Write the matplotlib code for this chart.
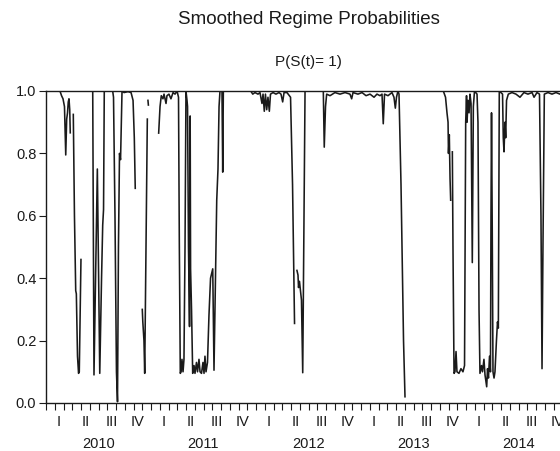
import matplotlib
matplotlib.use("Agg")
import matplotlib.pyplot as plt
import numpy as np

plt.rcParams.update({"font.family": ["Liberation Sans", "DejaVu Sans"], "figure.facecolor": "white",
                     "axes.facecolor": "white", "savefig.facecolor": "white"})
INK = "#1A1A1A"
NAN = np.nan

# smoothed probability P(S(t)=1); time in decimal years, NaN = break in the series
t = [2010.000, 2010.133, 2010.148, 2010.162, 2010.176, 2010.188, 2010.197, 2010.205, 2010.212, 2010.219,
     2010.226, 2010.231, 2010.240, 2010.260, 2010.271, 2010.283, 2010.289, 2010.300, 2010.310, 2010.317,
     2010.333, 2010.360, 2010.445, 2010.452, 2010.457, 2010.467, 2010.489, 2010.498, 2010.512, 2010.529,
     2010.540, 2010.548, 2010.555, 2010.635, 2010.643, 2010.657, 2010.671, 2010.681, 2010.690, 2010.700,
     2010.710, 2010.714, 2010.724, 2010.743, 2010.781, 2010.810, 2010.829, 2010.841, 2010.850, 2010.860,
     2010.917, 2010.922, 2010.933, 2010.940, 2010.952, 2010.965, 2010.968, 2010.971, 2010.975, 2010.980,
     2011.073, 2011.086, 2011.098, 2011.114, 2011.124, 2011.143, 2011.152, 2011.171, 2011.190, 2011.210,
     2011.229, 2011.248, 2011.262, 2011.270, 2011.279, 2011.286, 2011.295, 2011.305, 2011.314, 2011.324,
     2011.333, 2011.343, 2011.348, 2011.357, 2011.367, 2011.370, 2011.373, 2011.377, 2011.386, 2011.397,
     2011.410, 2011.419, 2011.433, 2011.443, 2011.457, 2011.467, 2011.481, 2011.495, 2011.505, 2011.514,
     2011.524, 2011.538, 2011.552, 2011.567, 2011.588, 2011.595, 2011.600, 2011.614, 2011.626, 2011.638,
     2011.648, 2011.657, 2011.676, 2011.683, 2011.689, 2011.950, 2011.969, 2011.990, 2012.019, 2012.038,
     2012.057, 2012.067, 2012.079, 2012.090, 2012.102, 2012.114, 2012.127, 2012.138, 2012.162, 2012.190,
     2012.219, 2012.238, 2012.254, 2012.267, 2012.295, 2012.329, 2012.348, 2012.367, 2012.375, 2012.390,
     2012.400, 2012.405, 2012.414, 2012.424, 2012.433, 2012.445, 2012.457, 2012.467, 2012.641, 2012.650,
     2012.662, 2012.673, 2012.705, 2012.752, 2012.800, 2012.848, 2012.895, 2012.911, 2012.924, 2012.971,
     2013.010, 2013.048, 2013.086, 2013.124, 2013.152, 2013.181, 2013.200, 2013.212, 2013.224, 2013.257,
     2013.295, 2013.314, 2013.327, 2013.338, 2013.352, 2013.362, 2013.381, 2013.405, 2013.419, 2013.430,
     2013.784, 2013.805, 2013.819, 2013.829, 2013.833, 2013.841, 2013.848, 2013.854, 2013.860, 2013.870,
     2013.876, 2013.886, 2013.895, 2013.905, 2013.914, 2013.933, 2013.952, 2013.971, 2013.986, 2013.997,
     2014.005, 2014.010, 2014.019, 2014.029, 2014.038, 2014.048, 2014.060, 2014.070, 2014.081, 2014.105,
     2014.114, 2014.124, 2014.133, 2014.148, 2014.157, 2014.171, 2014.181, 2014.197, 2014.205, 2014.214,
     2014.224, 2014.233, 2014.238, 2014.243, 2014.250, 2014.257, 2014.267, 2014.276, 2014.290, 2014.300,
     2014.308, 2014.317, 2014.348, 2014.355, 2014.362, 2014.371, 2014.378, 2014.386, 2014.403, 2014.438,
     2014.476, 2014.514, 2014.552, 2014.590, 2014.629, 2014.648, 2014.676, 2014.700, 2014.714, 2014.724,
     2014.733, 2014.746, 2014.781, 2014.819, 2014.857, 2014.895, 2015.000]
prob = [1.0, 1.0, 0.985, 0.975, 0.95, 0.795, 0.91, 0.93, 0.965, 0.975,
        0.94, 0.866, NAN, 0.925, 0.6, 0.36, 0.35, 0.15, 0.095, 0.1,
        0.46, NAN, 1.0, 0.5, 0.09, 0.3, 0.75, 0.5, 0.095, 0.4,
        0.57, 0.62, 1.0, 1.0, 0.98, 0.6, 0.1, 0.004, 0.5, 0.8,
        0.78, 0.84, 1.0, 0.995, 0.998, 0.995, 0.97, 0.85, 0.688, NAN,
        0.30, 0.26, 0.2, 0.095, 0.5, 0.91, NAN, 0.97, 0.955, NAN,
        0.865, 0.95, 0.985, 0.975, 0.99, 0.96, 0.985, 0.99, 0.975, 0.995,
        0.99, 1.0, 0.98, 0.5, 0.095, 0.1, 0.14, 0.1, 0.14, 0.5,
        1.0, 0.97, 0.95, 0.5, 0.245, 0.6, 0.92, 0.43, 0.3, 0.095,
        0.12, 0.095, 0.13, 0.1, 0.14, 0.1, 0.095, 0.13, 0.095, 0.15,
        0.1, 0.13, 0.28, 0.4, 0.43, 0.25, 0.105, 0.4, 0.65, 0.75,
        0.95, 1.0, 1.0, 0.74, 1.0, 1.0, 0.99, 0.995, 0.99, 0.995,
        0.96, 0.99, 0.935, 0.99, 0.94, 0.98, 0.935, 0.99, 0.995, 0.99,
        0.995, 0.99, 0.965, 0.995, 0.995, 0.98, 0.7, 0.255, NAN, 0.425,
        0.41, 0.37, 0.39, 0.36, 0.33, 0.097, 0.6, 1.0, 1.0, 0.82,
        0.95, 0.99, 0.985, 0.995, 0.99, 0.995, 0.99, 0.975, 0.995, 0.99,
        0.995, 0.985, 0.99, 0.98, 0.99, 0.985, 0.99, 0.895, 0.99, 0.985,
        0.995, 0.98, 0.945, 0.98, 1.0, 0.99, 0.7, 0.2, 0.02, NAN,
        1.0, 0.98, 0.93, 0.9, 0.8, 0.86, 0.72, 0.65, NAN, 0.805,
        0.5, 0.095, 0.1, 0.165, 0.1, 0.095, 0.11, 0.1, 0.12, 0.9,
        0.985, 0.9, 0.97, 0.93, 0.99, 0.96, 0.45, 0.95, 1.0, 0.99,
        0.9, 0.3, 0.095, 0.12, 0.1, 0.14, 0.09, 0.052, 0.11, 0.08,
        0.15, 0.1, 0.6, 0.93, 0.555, 0.1, 0.08, 0.1, 0.2, 0.26,
        0.24, 1.0, 0.99, 0.85, 0.805, 0.9, 0.85, 0.97, 0.99, 0.995,
        0.99, 0.98, 0.995, 0.99, 0.995, 0.98, 0.995, 0.99, 0.6, 0.11,
        0.5, 0.99, 0.995, 0.99, 0.995, 0.99, 0.995]

years = [2010, 2011, 2012, 2013, 2014]
quarters = ["I", "II", "III", "IV"]
yticks = [0.0, 0.2, 0.4, 0.6, 0.8, 1.0]

W, H = 560, 451
fig = plt.figure(figsize=(W / 100, H / 100), dpi=100)
# frame runs from x=46 px to past the right edge (the original is cropped there)
ax = fig.add_axes([46 / W, (H - 403) / H, (571 - 46) / W, (403 - 91) / H])
ax.plot(t, prob, color=INK, lw=1.15, solid_joinstyle="round")
ax.set_xlim(2010, 2015); ax.set_ylim(0, 1)

for sp in ["left", "top", "bottom"]:
    ax.spines[sp].set_color(INK); ax.spines[sp].set_linewidth(1.0)
ax.spines["right"].set_visible(False)

ax.set_yticks(yticks)
ax.set_yticklabels([f"{v:.1f}" for v in yticks], fontsize=10.5, color=INK)
ax.tick_params(axis="y", direction="out", length=5, width=0.8, color=INK, pad=2)

months = [y + m / 12 for y in years for m in range(12)] + [2015.0]
ax.set_xticks(months)
ax.set_xticklabels([])
ax.tick_params(axis="x", direction="out", length=5, width=0.8, color=INK)

xt = ax.get_xaxis_transform()
for y in years:
    for q, lab in enumerate(quarters):
        ax.text(y + q / 4 + 0.125, -0.060, lab, transform=xt, ha="center", va="center",
                fontsize=10.5, color=INK, clip_on=False)
    ax.text(y + 0.5, -0.131, str(y), transform=xt, ha="center", va="center",
            fontsize=10.5, color=INK, clip_on=False)

cx = (46 + 571) / 2 / W
fig.text(cx, (H - 20) / H, "Smoothed Regime Probabilities", ha="center", va="center",
         fontsize=13.5, color=INK)
fig.text(cx, (H - 62) / H, "P(S(t)= 1)", ha="center", va="center", fontsize=11, color=INK)

fig.savefig("out.png", dpi=100)
